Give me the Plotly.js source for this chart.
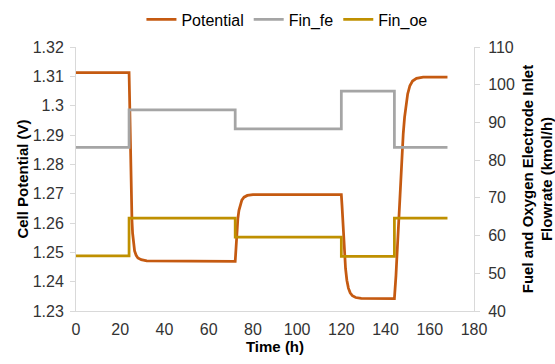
<!DOCTYPE html>
<html>
<head>
<meta charset="utf-8">
<script src="https://cdn.plot.ly/plotly-3.0.1.min.js"></script>
<style>html,body{margin:0;padding:0;background:#fff;}#chart{width:555px;height:364px;}</style>
</head>
<body>
<div id="chart"></div>
<script>
// Potential (left axis)
const potTime = [0, 24, 24.2, 24.4, 24.6, 24.8, 25.0, 25.3, 25.6, 26.0, 26.5, 27.2, 28, 29.5, 32, 72,
  72.2, 72.5, 72.8, 73.2, 73.7, 74.3, 75, 76, 77.5, 80, 120,
  120.3, 120.6, 121.0, 121.4, 121.9, 122.5, 123.2, 124, 125, 126.5, 129, 144,
  144.3, 144.7, 145.1, 145.5, 146.0, 146.5, 147.0, 147.5, 148.0, 148.6, 149.3, 150.0, 151.0, 152.2, 154, 157, 168];
const potential = [1.3113, 1.3113, 1.304, 1.294, 1.284, 1.275, 1.268, 1.261, 1.2565, 1.2530, 1.2505, 1.2490, 1.2481, 1.2475, 1.2471, 1.2469,
  1.2495, 1.2540, 1.2580, 1.2615, 1.2643, 1.2664, 1.2678, 1.2688, 1.2694, 1.2697, 1.2697,
  1.2660, 1.2610, 1.2550, 1.2495, 1.2445, 1.2405, 1.2378, 1.2362, 1.2352, 1.2346, 1.2343, 1.2342,
  1.2370, 1.2420, 1.2480, 1.2545, 1.2625, 1.2705, 1.2780, 1.2845, 1.2905, 1.2960, 1.3005, 1.3040, 1.3068, 1.3084, 1.3093, 1.3097, 1.3097];
// Inlet flowrates (right axis), step changes
const flowTime = [0, 24, 72, 120, 144, 168];
const finFe = [83.4, 93.3, 88.3, 98.3, 83.4, 83.4];
const finOe = [54.6, 64.6, 59.6, 54.5, 64.6, 64.6];

const traces = [
  {x: potTime, y: potential, name: 'Potential', type: 'scatter', mode: 'lines',
   line: {color: '#C55A11', width: 2.75}, yaxis: 'y'},
  {x: flowTime, y: finFe, name: 'Fin_fe', type: 'scatter', mode: 'lines',
   line: {color: '#A5A5A5', width: 2.75, shape: 'hv'}, yaxis: 'y2'},
  {x: flowTime, y: finOe, name: 'Fin_oe', type: 'scatter', mode: 'lines',
   line: {color: '#BF9000', width: 2.75, shape: 'hv'}, yaxis: 'y2'}
];

const fam = 'Liberation Sans, Arial, sans-serif';
const tickFont = {family: fam, size: 16, color: '#333333'};
const titleFont = {family: fam, size: 15, color: '#000', weight: 'bold'};

const layout = {
  width: 555, height: 364,
  margin: {l: 76, r: 81, t: 47, b: 53},
  paper_bgcolor: '#fff', plot_bgcolor: '#fff',
  showlegend: true,
  legend: {orientation: 'h', x: 0.53, xanchor: 'center', y: 0.993, yanchor: 'top', yref: 'container',
           font: {family: fam, size: 16, color: '#000'},
           itemwidth: 30, traceorder: 'normal'},
  xaxis: {range: [0, 180], tickvals: [0,20,40,60,80,100,120,140,160,180], showgrid: false, zeroline: false,
          showline: true, linecolor: '#D9D9D9', linewidth: 1, ticks: '', tickfont: tickFont,
          ticklabelstandoff: 4,
          title: {text: 'Time (h)', font: titleFont, standoff: 4}},
  yaxis: {range: [1.23, 1.32], tickvals: [1.23,1.24,1.25,1.26,1.27,1.28,1.29,1.30,1.31,1.32],
          ticktext: ['1.23','1.24','1.25','1.26','1.27','1.28','1.29','1.3','1.31','1.32'],
          showgrid: false, zeroline: false, showline: true, linecolor: '#D9D9D9', linewidth: 1,
          ticks: 'outside', ticklen: 5, tickcolor: '#D9D9D9', tickfont: tickFont, ticklabelstandoff: 3,
          title: {text: 'Cell Potential (V)', font: titleFont, standoff: 0}},
  yaxis2: {range: [40, 110], tickvals: [40,50,60,70,80,90,100,110], overlaying: 'y', side: 'right',
          showgrid: false, zeroline: false, showline: true, linecolor: '#D9D9D9', linewidth: 1,
          ticks: 'outside', ticklen: 5, tickcolor: '#D9D9D9', tickfont: tickFont, ticklabelstandoff: 5,
          title: {text: 'Fuel and Oxygen Electrode Inlet<br>Flowrate (kmol/h)', font: titleFont, standoff: 8}}
};

Plotly.newPlot('chart', traces, layout, {displayModeBar: false, staticPlot: true});
</script>
</body>
</html>
